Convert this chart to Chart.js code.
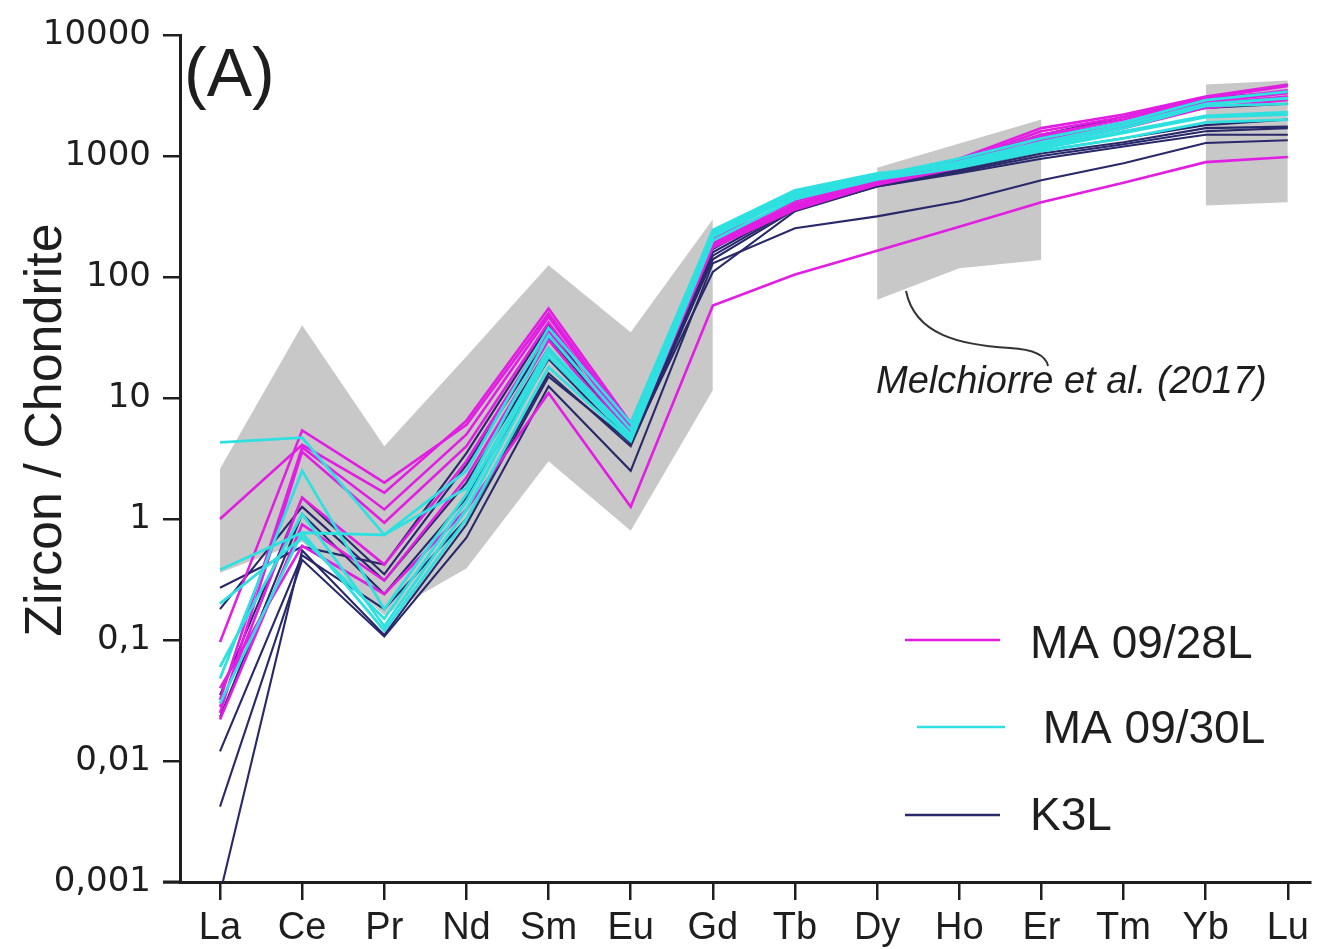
<!DOCTYPE html>
<html><head><meta charset="utf-8">
<script src="https://cdn.jsdelivr.net/npm/chart.js@4/dist/chart.umd.min.js"></script>
<style>html,body{margin:0;padding:0;background:#fff;overflow:hidden}canvas{display:block}</style>
</head><body>
<canvas id="c" width="1327" height="949"></canvas>
<script>
const categories = ['La','Ce','Pr','Nd','Sm','Eu','Gd','Tb','Dy','Ho','Er','Tm','Yb','Lu'];
const yTickValues = [0.001, 0.01, 0.1, 1, 10, 100, 1000, 10000];
const yTickLabels = ['0,001', '0,01', '0,1', '1', '10', '100', '1000', '10000'];

// Melchiorre et al. (2017) field (null = no field)
const bandUpper = [2.6, 40, 4.0, 22, 125, 35, 300, null, 800, 1270, 2000, null, 3900, 4200];
const bandLower = [0.36, 0.65, 0.16, 0.39, 3.0, 0.8, 11.6, null, 65, 118, 138, null, 390, 415];

// MA 09/28L (magenta)
const ma28 = [
  [1.0, 4.1, 1.65, 6.5, 55, 6.2, 210, 420, 650, 950, 1700, 2200, 3100, 3900],
  [0.096, 5.4, 2.0, 6.0, 50, 5.8, 200, 400, 640, 920, 1600, 2100, 3000, 3800],
  [0.032, 3.9, 1.2, 5.0, 47, 5.5, 190, 390, 620, 880, 1500, 2000, 2900, 3500],
  [0.025, 3.6, 0.93, 4.0, 42, 5.2, 185, 380, 610, 860, 1450, 1900, 2800, 3300],
  [0.028, 1.5, 0.42, 3.0, 36, 4.8, 180, 370, 600, 840, 1350, 1800, 2700, 3100],
  [0.022, 0.9, 0.31, 2.2, 30, 4.6, 175, 360, 580, 800, 1250, 1700, 2500, 2900],
  [0.04, 0.6, 0.24, 1.2, 11, 1.26, 58, 105, 165, 260, 415, 600, 890, 980]
];
// MA 09/30L (cyan)
const ma30 = [
  [4.3, 4.7, 0.74, 1.8, 33, 5.5, 245, 520, 720, 850, 1200, 1600, 2150, 2300],
  [0.38, 0.77, 0.74, 2.5, 38, 6.2, 240, 500, 700, 830, 1150, 1550, 2100, 2200],
  [0.048, 2.5, 0.18, 1.6, 26, 5.0, 230, 480, 680, 900, 1300, 1800, 2700, 3000],
  [0.06, 1.1, 0.13, 1.2, 22, 4.6, 220, 460, 660, 870, 1250, 1700, 2600, 2700],
  [0.03, 0.77, 0.12, 1.0, 18, 4.4, 200, 440, 640, 800, 1100, 1400, 1900, 2000],
  [0.2, 0.7, 0.15, 1.4, 24, 4.8, 215, 470, 690, 950, 1400, 1900, 2900, 3400]
];
// K3L (navy)
const k3l = [
  [0.27, 0.59, 0.42, 3.5, 40, 4.3, 170, 400, 620, 900, 1500, 2100, 3000, 3400],
  [0.18, 1.26, 0.31, 2.0, 26, 4.3, 160, 380, 600, 780, 1100, 1400, 1800, 2000],
  [0.023, 1.1, 0.24, 1.5, 21, 4.2, 150, 370, 580, 760, 1050, 1300, 1700, 1750],
  [0.012, 0.5, 0.18, 1.0, 16, 4.0, 140, 360, 560, 720, 950, 1200, 1500, 1500],
  [0.0042, 0.46, 0.107, 0.7, 12.5, 2.5, 130, 253, 317, 420, 630, 870, 1280, 1350],
  [0.0008, 0.55, 0.11, 0.9, 15, 4.3, 110, 350, 560, 740, 1000, 1250, 1600, 1700],
  [0.035, 1.5, 0.35, 2.8, 32, 5.0, 180, 400, 620, 850, 1300, 1800, 2500, 2700]
];

const legendLabels = ['MA 09/28L', ' MA 09/30L', 'K3L'];
const MAG = '#e21ee2', CYA = '#2ee0e0', NAV = '#28286a', BAND = '#c8c8c8', INK = '#1e1e1e';

const datasets = [];
function addGroup(group, color, width, label) {
  group.forEach((vals) => {
    datasets.push({
      label: label,
      data: vals.map((v, i) => ({x: i, y: v})),
      borderColor: color, borderWidth: width, pointRadius: 0, fill: false, tension: 0, order: 0
    });
  });
}
addGroup(ma30, CYA, 2.8, 'MA 09/30L');
addGroup(ma28, MAG, 2.6, 'MA 09/28L');
addGroup(k3l, NAV, 2.1, 'K3L');

// band segments (contiguous non-null runs)
let run = [];
for (let i = 0; i <= categories.length; i++) {
  if (i < categories.length && bandUpper[i] !== null) { run.push(i); continue; }
  if (run.length) {
    datasets.push({data: run.map(j => ({x: j, y: bandUpper[j]})), fill: '+1', backgroundColor: BAND,
      borderColor: 'rgba(0,0,0,0)', borderWidth: 1, pointRadius: 0, order: 10});
    datasets.push({data: run.map(j => ({x: j, y: bandLower[j]})), fill: false,
      borderColor: 'rgba(0,0,0,0)', borderWidth: 1, pointRadius: 0, order: 10});
  }
  run = [];
}

const decor = {
  id: 'decor',
  afterDraw(chart) {
    const ctx = chart.ctx;
    ctx.save();
    // x axis extension left of y axis
    ctx.strokeStyle = INK; ctx.lineWidth = 3;
    ctx.beginPath(); ctx.moveTo(163, chart.chartArea.bottom); ctx.lineTo(chart.chartArea.left, chart.chartArea.bottom); ctx.stroke();
    // y title
    ctx.fillStyle = INK;
    ctx.save();
    ctx.translate(47, 430); ctx.rotate(-Math.PI / 2);
    ctx.font = '52px "Liberation Sans", Arial, sans-serif';
    ctx.textAlign = 'center'; ctx.textBaseline = 'middle';
    ctx.fillText('Zircon / Chondrite', 0, 0);
    ctx.restore();
    // panel letter
    ctx.font = '68px "Liberation Sans", Arial, sans-serif';
    ctx.textAlign = 'left'; ctx.textBaseline = 'alphabetic';
    ctx.fillText('(A)', 184, 96);
    // annotation
    ctx.font = 'italic 38px "Liberation Sans", Arial, sans-serif';
    ctx.fillText('Melchiorre et al. (2017)', 876, 393);
    ctx.strokeStyle = '#333'; ctx.lineWidth = 2;
    ctx.beginPath(); ctx.moveTo(906, 291);
    ctx.bezierCurveTo(915, 335, 960, 345, 1010, 348);
    ctx.quadraticCurveTo(1045, 350, 1048, 366);
    ctx.stroke();
    // legend
    const leg = [
      {c: MAG, x0: 905, x1: 1000, y: 640, tx: 1030, ty: 645},
      {c: CYA, x0: 917, x1: 1005, y: 727, tx: 1030, ty: 730},
      {c: NAV, x0: 905, x1: 1000, y: 815, tx: 1030, ty: 817}
    ];
    ctx.font = '46px "Liberation Sans", Arial, sans-serif';
    ctx.textBaseline = 'middle';
    leg.forEach((e, i) => {
      ctx.strokeStyle = e.c; ctx.lineWidth = 2.4;
      ctx.beginPath(); ctx.moveTo(e.x0, e.y); ctx.lineTo(e.x1, e.y); ctx.stroke();
      ctx.fillStyle = INK;
      ctx.fillText(legendLabels[i], e.tx, e.ty);
    });
    ctx.restore();
  }
};

new Chart(document.getElementById('c'), {
  type: 'line',
  data: {datasets},
  options: {
    responsive: false, animation: false, devicePixelRatio: 1,
    layout: {padding: {left: 0, right: 17, top: 35, bottom: 0}},
    plugins: {legend: {display: false}, tooltip: {enabled: false}},
    scales: {
      x: {
        type: 'linear', min: -0.487, max: 13.27,
        afterBuildTicks: s => { s.ticks = categories.map((_, i) => ({value: i})); },
        afterFit: s => { s.height = 67; },
        ticks: {callback: v => categories[v], color: INK, padding: 6, maxRotation: 0, autoSkip: false,
          font: {family: '"Liberation Sans Narrow", "Liberation Sans", Arial, sans-serif', size: 38}},
        grid: {drawOnChartArea: false, drawTicks: true, tickLength: 18, color: INK, lineWidth: 2.5},
        border: {display: true, color: INK, width: 3}
      },
      y: {
        type: 'logarithmic', min: 0.001, max: 10000,
        afterBuildTicks: s => { s.ticks = yTickValues.map(v => ({value: v})); },
        afterFit: s => { s.width = 180; },
        ticks: {callback: (v, i) => yTickLabels[i], color: INK, padding: 12, autoSkip: false,
          font: {family: '"DejaVu Sans", sans-serif', size: 34}},
        grid: {drawOnChartArea: false, drawTicks: true, tickLength: 17, color: INK, lineWidth: 2.5},
        border: {display: true, color: INK, width: 3}
      }
    }
  },
  plugins: [decor]
});
</script>
</body></html>
